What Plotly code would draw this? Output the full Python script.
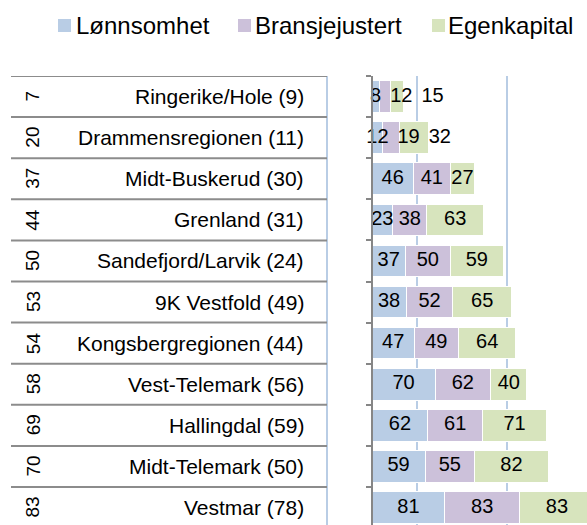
import plotly.graph_objects as go

# ---------------- data ----------------
categories = ["Ringerike/Hole (9)", "Drammensregionen (11)", "Midt-Buskerud (30)",
              "Grenland (31)", "Sandefjord/Larvik (24)", "9K Vestfold (49)",
              "Kongsbergregionen (44)", "Vest-Telemark (56)", "Hallingdal (59)",
              "Midt-Telemark (50)", "Vestmar (78)"]
ranks = [7, 20, 37, 44, 50, 53, 54, 58, 69, 70, 83]
lonnsomhet = [8, 12, 46, 23, 37, 38, 47, 70, 62, 59, 81]
bransjejustert = [12, 19, 41, 38, 50, 52, 49, 62, 61, 55, 83]
egenkapital = [15, 32, 27, 63, 59, 65, 64, 40, 71, 82, 83]
series_names = ["Lønnsomhet", "Bransjejustert", "Egenkapital"]

# ---------------- style / layout ----------------
series_colors = ["#b9cde5", "#ccc1da", "#d7e4bd"]
W, H = 587, 525
FONT = "Liberation Sans, Arial, sans-serif"
plot_left_px = 300
x_range = [-80, 238.9]
ppu = (W - plot_left_px) / (x_range[1] - x_range[0])
row_px = 41.1
top_px = 76
y_dom_top = (H - top_px) / H
y_range = [-0.5 + (H - top_px) / row_px, -0.5]
axis_gray = "#868686"
table_gray = "#8c8c8c"
grid_blue = "#b9cde5"

series = [lonnsomhet, bransjejustert, egenkapital]

fig = go.Figure()
for name, vals, col in zip(series_names, series, series_colors):
    fig.add_trace(go.Bar(
        y=categories, x=vals, orientation="h", name=name,
        marker=dict(color=col, line=dict(color="white", width=1)),
        showlegend=False, hoverinfo="x+name"))

# bar value labels (centred in segment, nudged right when they would collide)
lab_font = 20
digit_w = 0.556 * lab_font
lx, ly, lt = [], [], []
for i, cat in enumerate(categories):
    start = 0
    prev_right = -1e9
    for vals in series:
        v = vals[i]
        w = len(str(v)) * digit_w / ppu
        c = start + v / 2
        if c - w / 2 < prev_right + 2 / ppu:
            c = prev_right + 9 / ppu + w / 2
        prev_right = c + w / 2
        lx.append(c)
        ly.append(cat)
        lt.append(str(v))
        start += v
fig.add_trace(go.Scatter(
    x=lx, y=ly, text=lt, mode="text", textposition="middle center",
    textfont=dict(size=lab_font, color="black", family=FONT),
    showlegend=False, cliponaxis=False, hoverinfo="skip"))

shapes = []
annotations = []

# table row lines
for k in range(len(categories) + 1):
    shapes.append(dict(type="line", xref="paper", yref="y",
                       x0=11 / W, x1=327 / W, y0=k - 0.5, y1=k - 0.5,
                       line=dict(color=table_gray, width=2)))

# table texts
for cat, r in zip(categories, ranks):
    annotations.append(dict(xref="paper", yref="y", x=306 / W, y=cat,
                            text=cat, showarrow=False, xanchor="right", yanchor="middle",
                            font=dict(size=21, color="black", family=FONT)))
    annotations.append(dict(xref="paper", yref="y", x=33 / W, y=cat,
                            text=str(r), showarrow=False, xanchor="center", yanchor="middle",
                            textangle=-90,
                            font=dict(size=19, color="black", family=FONT)))

# custom legend
leg_sq_x = [58, 238, 432]
leg_txt_x = [74, 253, 446]
for name, col, sx, tx in zip(series_names, series_colors, leg_sq_x, leg_txt_x):
    shapes.append(dict(type="rect", xref="paper", yref="paper",
                       x0=sx / W, x1=(sx + 13) / W, y0=(H - 32) / H, y1=(H - 19) / H,
                       fillcolor=col, line=dict(width=0)))
    annotations.append(dict(xref="paper", yref="paper", x=tx / W, y=(H - 25) / H,
                            text=name, showarrow=False, xanchor="left", yanchor="middle",
                            font=dict(size=24, color="black", family=FONT)))

zero_pos = (plot_left_px + (0 - x_range[0]) * ppu) / W

fig.update_layout(
    width=W, height=H,
    margin=dict(l=0, r=0, t=0, b=0),
    paper_bgcolor="white", plot_bgcolor="white",
    barmode="stack", bargap=0.23,
    showlegend=False,
    font=dict(family=FONT, color="black"),
    xaxis=dict(domain=[plot_left_px / W, 1], range=x_range,
               showgrid=True, gridcolor=grid_blue, gridwidth=2,
               tick0=-50, dtick=100, showticklabels=False,
               zeroline=False, showline=False, ticks=""),
    yaxis=dict(type="category", categoryorder="array", categoryarray=categories,
               domain=[0, y_dom_top],
               range=y_range, anchor="free", position=zero_pos,
               showline=True, linecolor=axis_gray, linewidth=2,
               ticks="outside", ticklen=5, tickwidth=2, tickcolor=axis_gray,
               tickson="boundaries", showticklabels=False,
               showgrid=False, zeroline=False),
    shapes=shapes,
    annotations=annotations,
)

fig.write_html("out.html",
               config={"displayModeBar": False},
               post_script="document.body.style.margin='0';document.body.style.overflow='hidden';")
